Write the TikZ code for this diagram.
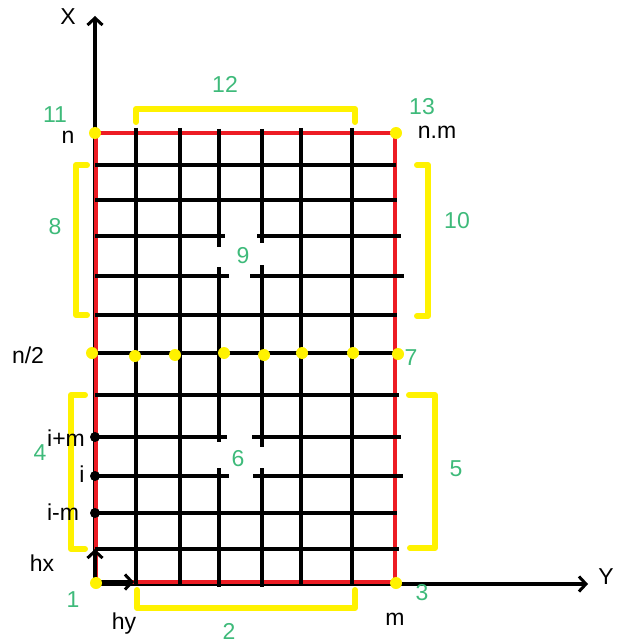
\documentclass[tikz,border=0pt]{standalone}
\usepackage{fontspec}
\setmainfont{Liberation Sans}
\usetikzlibrary{arrows.meta}
\definecolor{lblgreen}{RGB}{62,186,122}
\definecolor{gridred}{RGB}{237,28,36}
\definecolor{brkyellow}{RGB}{255,242,0}
\begin{document}
\begin{tikzpicture}[x=1pt,y=-1pt,
  axisline/.style={line width=3.6pt, black},
  tip/.style={-{Straight Barb[length=7pt,width=15pt,line width=3pt]}},
  redline/.style={line width=4pt, gridred},
  gridline/.style={line width=3.6pt, black},
  bracket/.style={line width=6pt, brkyellow, line join=round, line cap=round},
  ydot/.style={circle, fill=brkyellow, inner sep=0pt, minimum size=12pt},
  bdot/.style={circle, fill=black, inner sep=0pt, minimum size=10pt},
  glabel/.style={text=lblgreen, inner sep=0pt, font=\fontsize{23}{23}\selectfont},
  blabel/.style={text=black, inner sep=0pt, font=\fontsize{23}{23}\selectfont}]
\useasboundingbox (0,0) rectangle (616,644);

% axes
\coordinate (O) at (95,584);
\coordinate (Xtip) at (95,16);
\coordinate (Ytip) at (588,584);
\draw[axisline,tip] (O) -- (Xtip);
\draw[axisline,tip] (O) -- (Ytip);

% red border
\coordinate (BL) at (96,582);
\coordinate (TR) at (395,133);
\draw[redline] (BL) rectangle (TR);

% step arrows hx, hy
\coordinate (hxtip) at (95,549);
\coordinate (hytip) at (134,582);
\draw[axisline,tip] (O) -- (hxtip);
\draw[axisline,tip] (BL) -- (hytip);

% horizontal grid lines (full)
\foreach \y/\xe in {165/396, 200/397, 315/397, 353/397, 395/399, 513/397, 549/399}
  \draw[gridline] (95,\y) -- (\xe,\y);
% horizontal grid lines with gap
\foreach \y/\a/\b/\xe in {236/225/257/401, 276/229/250/404, 437/227/252/401, 476/229/253/403}{
  \draw[gridline] (95,\y) -- (\a,\y);
  \draw[gridline] (\b,\y) -- (\xe,\y);
}
% vertical grid lines
\foreach \x in {136,180,301,352}
  \draw[gridline] (\x,128) -- (\x,585);
\draw[gridline] (219,129) -- (219,247);
\draw[gridline] (219,267) -- (219,442);
\draw[gridline] (219,468) -- (219,587);
\draw[gridline] (262,129) -- (262,243);
\draw[gridline] (262,265) -- (262,447);
\draw[gridline] (262,468) -- (262,587);

% yellow brackets
\draw[bracket] (136,122) -- (136,109) -- (355,109) -- (355,122);
\draw[bracket] (137,590) -- (137,608) -- (355,608) -- (355,590);
\draw[bracket] (87,165) -- (76,165) -- (76,315) -- (87,315);
\draw[bracket] (417,165) -- (428,165) -- (428,316) -- (417,316);
\draw[bracket] (85,395) -- (71,395) -- (71,549) -- (85,549);
\draw[bracket] (409,395) -- (435,395) -- (435,548) -- (410,548);

% yellow dots
\node[ydot] (c11) at (95,133) {};
\node[ydot] (c13) at (396,133) {};
\node[ydot] (c1) at (96,583) {};
\node[ydot] (c3) at (396,583) {};
\foreach \x/\y [count=\k] in {92/353, 135/356, 175/355, 224/353, 264/355, 302/353, 353/353, 398/354}
  \node[ydot] (h\k) at (\x,\y) {};

% black dots
\node[bdot] (pim) at (95,437) {};
\node[bdot] (pi) at (95,476) {};
\node[bdot] (pmm) at (95,513) {};

% black labels
\node[blabel] (lX) at (68,17) {X};
\node[blabel] (lY) at (606,577) {Y};
\node[blabel] (ln) at (68,137) {n};
\node[blabel] (lnm) at (437,132) {n.m};
\node[blabel] (ln2) at (28,355) {n/2};
\node[blabel] (lipm) at (66,438) {i+m};
\node[blabel] (li) at (82,474) {i};
\node[blabel] (limm) at (63,512) {i-m};
\node[blabel] (lhx) at (42,563) {hx};
\node[blabel] (lhy) at (124,624) {hy};
\node[blabel] (lm) at (395,619) {m};

% green labels
\node[glabel] (g1) at (73,600) {1};
\node[glabel] (g2) at (229,631) {2};
\node[glabel] (g3) at (422,593) {3};
\node[glabel] (g4) at (40,453) {4};
\node[glabel] (g5) at (456,469) {5};
\node[glabel] (g6) at (238,459) {6};
\node[glabel] (g7) at (411,358) {7};
\node[glabel] (g8) at (55,227) {8};
\node[glabel] (g9) at (243,256) {9};
\node[glabel] (g10) at (457,221) {10};
\node[glabel] (g11) at (55,115) {11};
\node[glabel] (g12) at (225,84) {12};
\node[glabel] (g13) at (422,107) {13};
\end{tikzpicture}
\end{document}
